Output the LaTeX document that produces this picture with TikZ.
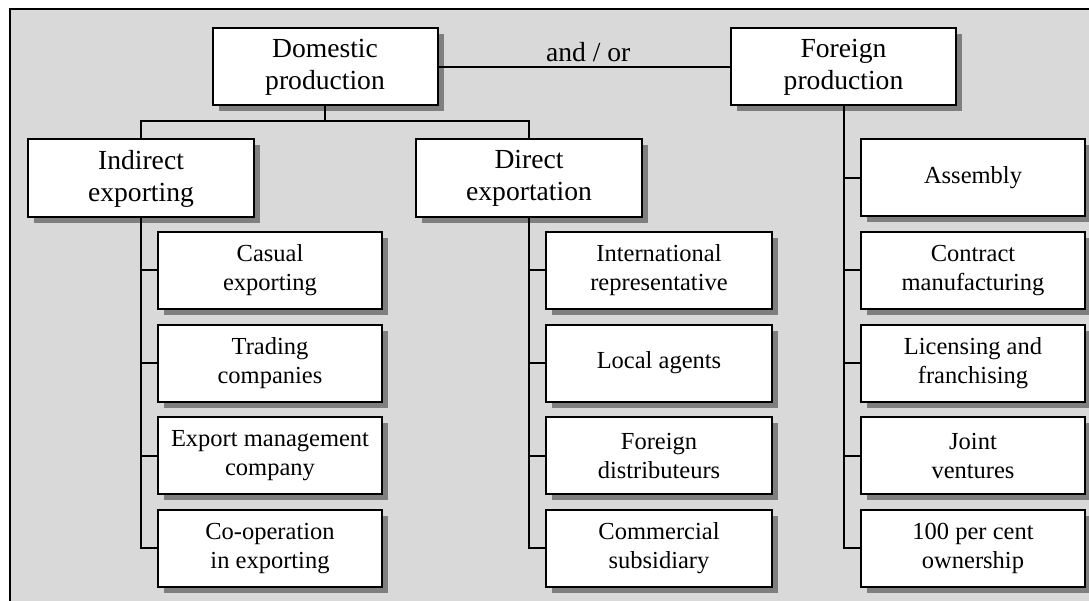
\documentclass[tikz,border=0pt]{standalone}
\usepackage{fontspec}
\setmainfont{Liberation Serif}
\usetikzlibrary{shadows}
\definecolor{bggray}{HTML}{D9D9D9}
\definecolor{shgray}{HTML}{7F7F7F}
\tikzset{
  box/.style={draw, line width=2pt, fill=white, align=center, inner sep=0pt,
    drop shadow={shadow xshift=6pt, shadow yshift=-6pt, fill=shgray, opacity=1}},
  topbox/.style={box, minimum width=225pt, minimum height=77pt,
    font=\fontsize{27.6}{32}\selectfont},
  subbox/.style={box, minimum width=224pt, minimum height=77pt,
    font=\fontsize{24.5}{29}\selectfont},
  conn/.style={line width=2pt},
}
\begin{document}
\begin{tikzpicture}[x=1pt, y=-1pt]
\useasboundingbox (0,0) rectangle (1089,601);
\fill[bggray] (10,9) rectangle (1100,612);
\draw[line width=2.5pt] (10,612) -- (10,9) -- (1100,9);

% top level
\node[topbox] (dom) at (325,67) {Domestic\\production};
\node[topbox] (for) at (843.5,67) {Foreign\\production};
\node[topbox, minimum width=226pt, minimum height=78pt] (ind) at (141,178.5) {Indirect\\exporting};
\node[topbox, minimum width=226pt, minimum height=78pt] (dir) at (529,178.5) {Direct\\exportation};

% indirect exporting sub-boxes
\node[subbox] (i1) at (270,270.5) {Casual\\exporting};
\node[subbox] (i2) at (270,363.1) {Trading\\companies};
\node[subbox] (i3) at (270,455.7) {Export management\\company};
\node[subbox] (i4) at (270,548.3) {Co-operation\\in exporting};

% direct exportation sub-boxes
\node[subbox, minimum width=226pt] (d1) at (659,270.5) {International\\representative};
\node[subbox, minimum width=226pt] (d2) at (659,363.1) {Local agents};
\node[subbox, minimum width=226pt] (d3) at (659,455.7) {Foreign\\distributeurs};
\node[subbox, minimum width=226pt] (d4) at (659,548.3) {Commercial\\subsidiary};

% foreign production sub-boxes
\node[subbox] (f1) at (973,177.9) {Assembly};
\node[subbox] (f2) at (973,270.5) {Contract\\manufacturing};
\node[subbox] (f3) at (973,363.1) {Licensing and\\franchising};
\node[subbox] (f4) at (973,455.7) {Joint\\ventures};
\node[subbox] (f5) at (973,548.3) {100 per cent\\ownership};

% connectors
\coordinate (j) at (325,121);
\draw[conn] (dom.south) -- (j);
\draw[conn] (ind.north) |- (j) -| (dir.north);
\draw[conn] (dom.east) -- node[above, inner sep=4.5pt, xshift=4pt, font=\fontsize{27.6}{32}\selectfont] (lbl) {and / or} (for.west);

\draw[conn] (ind.south) |- (i4.west);
\foreach \n in {i1,i2,i3} \draw[conn] (\n.west) -- (\n.west -| ind.south);
\draw[conn] (dir.south) |- (d4.west);
\foreach \n in {d1,d2,d3} \draw[conn] (\n.west) -- (\n.west -| dir.south);
\draw[conn] (for.south) |- (f5.west);
\foreach \n in {f1,f2,f3,f4} \draw[conn] (\n.west) -- (\n.west -| for.south);
\end{tikzpicture}
\end{document}
